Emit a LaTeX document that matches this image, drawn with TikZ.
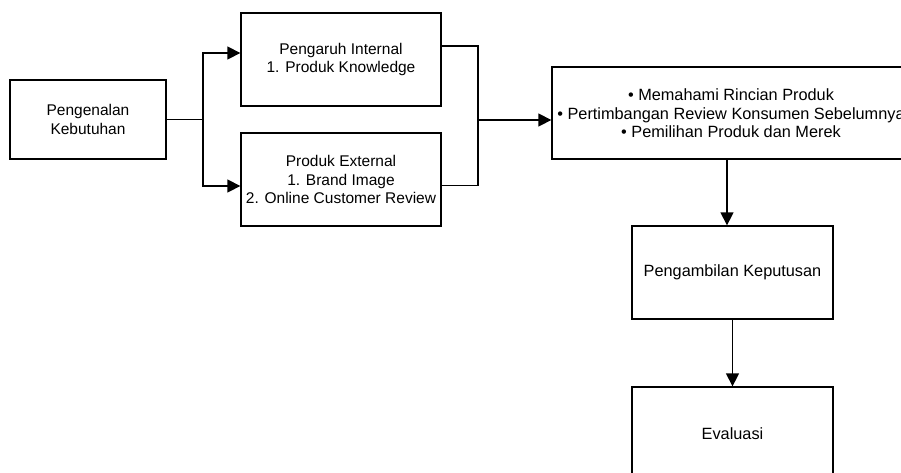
\documentclass[tikz,border=0pt]{standalone}
\usepackage{fontspec}
\setmainfont{Liberation Sans}
\usetikzlibrary{arrows.meta}
\begin{document}
\begin{tikzpicture}
[x=1pt,y=-1pt,%
  boxdecorate/.style={shape=rectangle,draw,line width=1.3pt,align=center,inner sep=2pt},%
  linedecorate/.style={-,line width=1.3pt},%
  arrowdecorate/.style={-{Triangle[length=13pt,width=13pt]},line width=1.3pt},%
  bigfont/.style={font=\fontsize{16.3}{18.5}\selectfont},%
  font=\fontsize{15.5}{18.5}\selectfont]
\useasboundingbox (0,0) rectangle (901,472);
%% boxes
\node (kenal) at (88,119.5) [boxdecorate,minimum width=156pt,minimum height=79pt] {Pengenalan\\Kebutuhan};
\node (internal) at (341,59.5) [boxdecorate,minimum width=200pt,minimum height=93pt] {Pengaruh Internal\\1. Produk Knowledge};
\node (external) at (341,179.5) [boxdecorate,minimum width=200pt,minimum height=93pt] {Produk External\\1. Brand Image\\2. Online Customer Review};
\node (pilih) at (727,113) [boxdecorate,minimum width=350pt,minimum height=92pt] {};
\node (pilihtext) at (731,113.5) [align=center,bigfont] {• Memahami Rincian Produk\\• Pertimbangan Review Konsumen Sebelumnya\\• Pemilihan Produk dan Merek};
\node (keputusan) at (732.5,272.5) [boxdecorate,bigfont,minimum width=201pt,minimum height=93pt] {Pengambilan Keputusan};
\node (evaluasi) at (732.5,433.5) [boxdecorate,bigfont,minimum width=201pt,minimum height=93pt] {Evaluasi};
%% junctions
\coordinate (split) at (203,119.5);
\coordinate (merge) at (478,120);
%% lines
\draw[linedecorate] (kenal.east) -- (split);
\draw[arrowdecorate] (split) |- ([yshift=6.5pt]internal.west);
\draw[arrowdecorate] (split) |- ([yshift=-6.5pt]external.west);
\draw[linedecorate] ([yshift=13.5pt]internal.east) -| (merge);
\draw[linedecorate] ([yshift=-6pt]external.east) -| (merge);
\draw[arrowdecorate] (merge) -- ([yshift=-7pt]pilih.west);
\draw[arrowdecorate] (pilih.south) -- (pilih.south |- keputusan.north);
\draw[arrowdecorate] (keputusan.south) -- (evaluasi.north);
\end{tikzpicture}
\end{document}
